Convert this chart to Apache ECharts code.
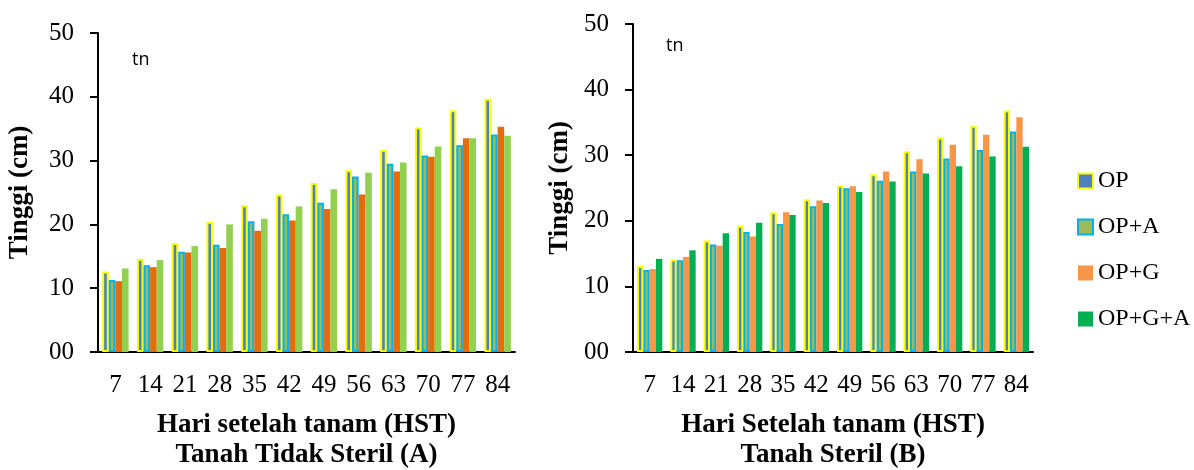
<!DOCTYPE html>
<html>
<head>
<meta charset="utf-8">
<script src="https://cdn.jsdelivr.net/npm/echarts@6/dist/echarts.min.js"></script>
<style>html,body{margin:0;padding:0;background:#fff}#chart{width:1194px;height:470px}</style>
</head>
<body>
<div id="chart"></div>
<script>
// days after planting
const days = ['7', '14', '21', '28', '35', '42', '49', '56', '63', '70', '77', '84'];
const yTicks = [0, 10, 20, 30, 40, 50];
const seriesNames = ['OP', 'OP+A', 'OP+G', 'OP+G+A'];

// Tanah Tidak Steril (A)
const opA = [12.6, 14.6, 17.1, 20.4, 23.0, 24.7, 26.5, 28.5, 31.7, 35.2, 37.9, 39.7];
const opaA = [11.3, 13.6, 15.7, 16.8, 20.5, 21.6, 23.4, 27.5, 29.5, 30.8, 32.4, 34.1];
const opgA = [11.1, 13.3, 15.6, 16.3, 19.0, 20.6, 22.4, 24.7, 28.3, 30.6, 33.5, 35.3];
const opgaA = [13.1, 14.4, 16.6, 20.0, 20.9, 22.8, 25.5, 28.1, 29.7, 32.2, 33.5, 33.9];

// Tanah Steril (B)
const opB = [13.1, 14.1, 17.0, 19.25, 21.3, 23.3, 25.4, 27.1, 30.6, 32.7, 34.5, 36.8];
const opaB = [12.5, 14.0, 16.4, 18.3, 19.5, 22.2, 24.95, 26.1, 27.5, 29.5, 30.8, 33.6];
const opgB = [12.65, 14.5, 16.2, 17.6, 21.3, 23.1, 25.25, 27.5, 29.4, 31.6, 33.1, 35.8];
const opgaB = [14.2, 15.5, 18.1, 19.7, 20.9, 22.7, 24.4, 26.0, 27.2, 28.3, 29.8, 31.3];

const serif = 'Liberation Serif';
const styleA = [
  { color: '#4F81BD', borderColor: '#FFFF00', borderWidth: 2 },
  { color: '#9BBB59', borderColor: '#00B0F0', borderWidth: 2 },
  { color: '#E46C0A' },
  { color: '#92D050' }
];
const styleB = [
  { color: '#4F81BD', borderColor: '#FFFF00', borderWidth: 2 },
  { color: '#9BBB59', borderColor: '#00B0F0', borderWidth: 2 },
  { color: '#F79646' },
  { color: '#00B050' }
];

function xAx(idx, name) {
  return {
    type: 'category', gridIndex: idx, data: days,
    axisLine: { lineStyle: { color: '#000', width: 2 } },
    axisTick: { length: 8, lineStyle: { color: '#000', width: 2 } },
    axisLabel: { color: '#000', fontFamily: serif, fontSize: 25, margin: 21 },
    name: name, nameLocation: 'middle', nameGap: 58,
    nameTextStyle: { color: '#000', fontFamily: serif, fontWeight: 'bold', fontSize: 27, lineHeight: 30,
      verticalAlign: 'top' }
  };
}
function yAx(idx, gap) {
  return {
    type: 'value', gridIndex: idx, min: yTicks[0], max: yTicks[yTicks.length - 1], interval: 10,
    splitLine: { show: false },
    axisLine: { show: true, lineStyle: { color: '#000', width: 2 } },
    axisTick: { show: true, length: 8, lineStyle: { color: '#000', width: 2 } },
    axisLabel: { color: '#000', fontFamily: serif, fontSize: 25, margin: 24,
      formatter: v => v === 0 ? '00' : String(v) },
    name: 'Tinggi (cm)', nameLocation: 'middle', nameRotate: 90, nameGap: gap,
    nameTextStyle: { color: '#000', fontFamily: serif, fontWeight: 'bold', fontSize: 27 }
  };
}

const dataA = [opA, opaA, opgA, opgaA];
const dataB = [opB, opaB, opgB, opgaB];
const series = [];
seriesNames.forEach((n, i) => {
  series.push({ name: n, type: 'bar', xAxisIndex: 0, yAxisIndex: 0, data: dataA[i],
    itemStyle: styleA[i], barGap: '0%', barCategoryGap: '24%' });
});
seriesNames.forEach((n, i) => {
  series.push({ name: n, type: 'bar', xAxisIndex: 1, yAxisIndex: 1, data: dataB[i],
    itemStyle: styleB[i], barGap: '0%', barCategoryGap: '24%' });
});

const chart = echarts.init(document.getElementById('chart'), null, { renderer: 'canvas' });
chart.setOption({
  animation: false,
  backgroundColor: '#fff',
  grid: [
    { left: 98, right: 679, top: 33, bottom: 118, outerBoundsMode: 'none' },
    { left: 633, right: 161, top: 24, bottom: 118, outerBoundsMode: 'none' }
  ],
  xAxis: [xAx(0, 'Hari setelah tanam (HST)\nTanah Tidak Steril (A)'), xAx(1, 'Hari Setelah tanam (HST)\nTanah Steril (B)')],
  yAxis: [yAx(0, 64), yAx(1, 59)],
  legend: {
    orient: 'vertical', left: 1072, top: 164, itemGap: 22,
    itemWidth: 15, itemHeight: 15, icon: 'rect',
    textStyle: { color: '#000', fontFamily: serif, fontSize: 24 },
    data: seriesNames.map((n, i) => ({ name: n, itemStyle: styleB[i] }))
  },
  graphic: [
    { type: 'text', left: 132, top: 51, style: { text: 'tn', fontFamily: 'Open Sans', fontSize: 18, fill: '#000' } },
    { type: 'text', left: 666, top: 37, style: { text: 'tn', fontFamily: 'Open Sans', fontSize: 18, fill: '#000' } }
  ],
  series: series
});
</script>
</body>
</html>
